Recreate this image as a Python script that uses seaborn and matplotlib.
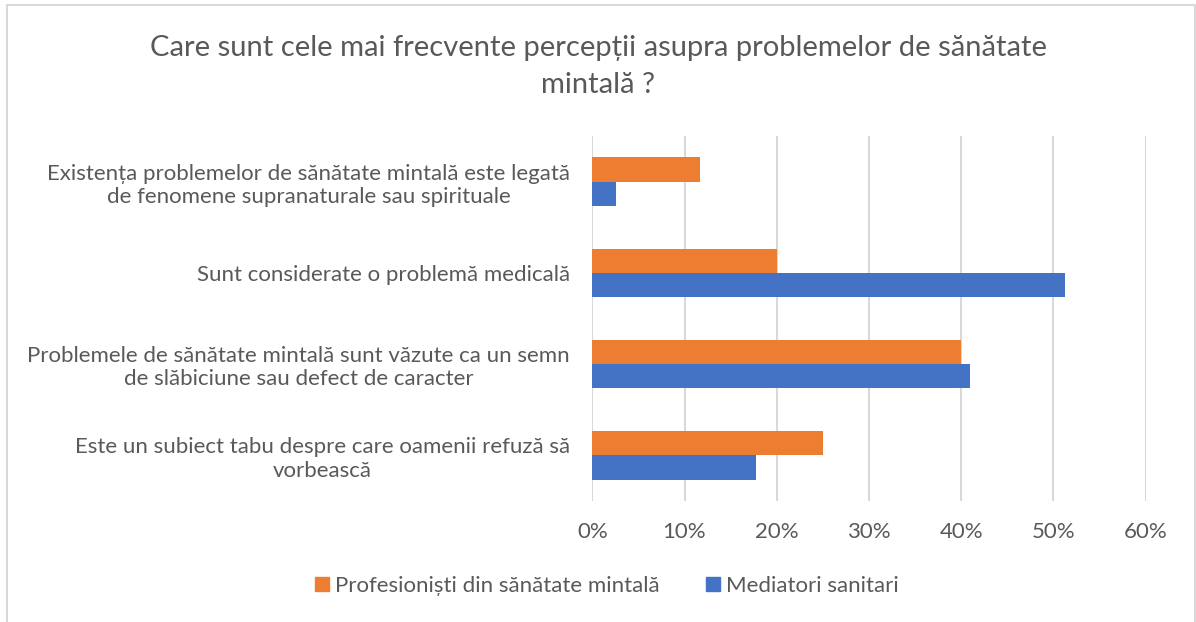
import matplotlib
matplotlib.use("Agg")
import matplotlib.pyplot as plt
import seaborn as sns
import pandas as pd
from matplotlib.lines import Line2D
from matplotlib.ticker import PercentFormatter

categories = [
    "Existența problemelor de sănătate mintală este legată\nde fenomene supranaturale sau spirituale",
    "Sunt considerate o problemă medicală",
    "Problemele de sănătate mintală sunt văzute ca un semn\nde slăbiciune sau defect de caracter",
    "Este un subiect tabu despre care oamenii refuză să\nvorbească",
]
series_names = ["Profesioniști din sănătate mintală", "Mediatori sanitari"]
profesionisti = [0.117, 0.20, 0.40, 0.25]
mediatori = [0.026, 0.513, 0.41, 0.178]
x_ticks = [0, 0.1, 0.2, 0.3, 0.4, 0.5, 0.6]
title_lines = ["Care sunt cele mai frecvente percepții asupra problemelor de sănătate",
               "mintală ?"]

colors = ["#ED7D31", "#4472C4"]
text_color = "#595959"
grid_color = "#D9D9D9"

df = pd.DataFrame({
    "cat": categories * 2,
    "val": profesionisti + mediatori,
    "serie": [series_names[0]] * 4 + [series_names[1]] * 4,
})

sns.set_theme(style="white")
plt.rcParams["font.family"] = ["Lato", "DejaVu Sans"]

fig = plt.figure(figsize=(11.96, 6.22), dpi=100)
ax = fig.add_axes([592.3 / 1196, 1 - 501 / 622, (1145.5 - 592.3) / 1196, (501 - 136) / 622])

sns.barplot(data=df, x="val", y="cat", hue="serie", order=categories,
            hue_order=series_names, palette=colors, width=0.53, saturation=1,
            orient="h", ax=ax, legend=False, edgecolor="none")

ax.set_xlim(0, 0.6)
ax.set_xticks(x_ticks)
ax.xaxis.set_major_formatter(PercentFormatter(1.0, decimals=0))
ax.grid(axis="x", color=grid_color, linewidth=1.5)
ax.set_axisbelow(True)
for s in ax.spines.values():
    s.set_visible(False)
ax.set_xlabel("")
ax.set_ylabel("")
ax.tick_params(axis="x", length=0, pad=15, labelsize=16, labelcolor=text_color)
ax.tick_params(axis="y", length=0, pad=16, labelsize=16, labelcolor=text_color)
for lbl in ax.get_yticklabels():
    lbl.set_multialignment("center")
    lbl.set_linespacing(1.2)

for i, (line, ypix) in enumerate(zip(title_lines, [48, 85])):
    fig.text(0.5, 1 - ypix / 622, line, ha="center", va="center", fontsize=21,
             color=text_color)

handles = [Line2D([0], [0], marker="s", linestyle="none", markersize=10,
                  markerfacecolor=c, markeredgecolor=c) for c in colors]
fig.legend(handles, series_names, loc="center", bbox_to_anchor=(606 / 1196, 1 - 586 / 622),
           ncol=2, frameon=False, fontsize=16, labelcolor=text_color,
           handletextpad=0.2, columnspacing=2.0, handlelength=0.8)

# chart border
for xs, ys in [((7, 7), (5, 622)), ((7, 1195), (5, 5)), ((1195, 1195), (5, 622))]:
    fig.add_artist(Line2D([x / 1196 for x in xs], [1 - y / 622 for y in ys],
                          color=grid_color, linewidth=1.5, transform=fig.transFigure))

fig.savefig("out.png", dpi=100)
